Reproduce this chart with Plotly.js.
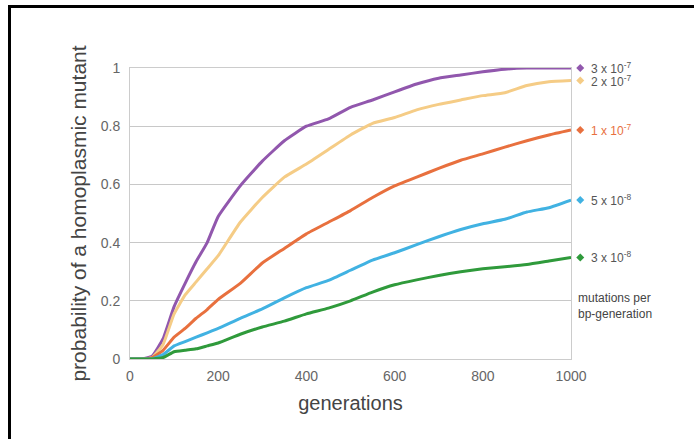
<!DOCTYPE html>
<html>
<head>
<meta charset="utf-8">
<script src="https://cdn.plot.ly/plotly-3.0.1.min.js"></script>
<style>
html, body { margin: 0; padding: 0; background: #ffffff; overflow: hidden; }
#chart { position: absolute; left: 0; top: 0; width: 694px; height: 439px; }
#frame { position: absolute; left: 8px; top: 5px; width: 700px; height: 450px;
  border-top: 3px solid #000; border-left: 3px solid #000; pointer-events: none; }
</style>
</head>
<body>
<div id="chart"></div>
<div id="frame"></div>
<script>
// generations
const generations = [0, 25, 50, 75, 100, 125, 150, 175, 200, 250, 300, 350, 400, 450, 500, 550, 600, 650, 700, 750, 800, 850, 900, 950, 1000];

// probability of a homoplasmic mutant, per mutation rate
const rate3e7 = [0, 0, 0.01, 0.07, 0.18, 0.26, 0.335, 0.40, 0.49, 0.595, 0.68, 0.75, 0.80, 0.825, 0.865, 0.89, 0.918, 0.945, 0.965, 0.976, 0.987, 0.996, 1.0, 1.0, 1.0];
const rate2e7 = [0, 0, 0.005, 0.05, 0.155, 0.22, 0.265, 0.31, 0.355, 0.47, 0.555, 0.625, 0.67, 0.72, 0.77, 0.81, 0.83, 0.856, 0.875, 0.89, 0.905, 0.915, 0.94, 0.953, 0.957];
const rate1e7 = [0, 0, 0.005, 0.03, 0.075, 0.105, 0.14, 0.17, 0.205, 0.26, 0.33, 0.38, 0.43, 0.47, 0.51, 0.555, 0.595, 0.625, 0.655, 0.683, 0.705, 0.728, 0.75, 0.77, 0.787];
const rate5e8 = [0, 0, 0, 0.015, 0.045, 0.06, 0.075, 0.09, 0.105, 0.14, 0.172, 0.21, 0.245, 0.27, 0.305, 0.34, 0.365, 0.393, 0.42, 0.445, 0.465, 0.48, 0.505, 0.52, 0.546];
const rate3e8 = [0, 0, 0, 0.005, 0.025, 0.03, 0.035, 0.045, 0.055, 0.085, 0.11, 0.13, 0.155, 0.175, 0.20, 0.23, 0.255, 0.272, 0.287, 0.30, 0.31, 0.317, 0.325, 0.337, 0.349];

const seriesLabels = ["3 x 10<sup>-7</sup>", "2 x 10<sup>-7</sup>", "1 x 10<sup>-7</sup>", "5 x 10<sup>-8</sup>", "3 x 10<sup>-8</sup>"];
const seriesColors = ["#9157ad", "#f5cc86", "#e8703e", "#41b2e2", "#2f9a3b"];
const labelColors = ["#555555", "#555555", "#e8703e", "#555555", "#555555"];
const yTicks = [0, 0.2, 0.4, 0.6, 0.8, 1];
const yTickText = ["0", "0.2", "0.4", "0.6", "0.8", "1"];
const xTicks = [0, 200, 400, 600, 800, 1000];

const allSeries = [rate3e7, rate2e7, rate1e7, rate5e8, rate3e8];
const FONT = 'Liberation Sans, Arial, sans-serif';
const yRange = [0, 1];
const toPaperY = v => (v - yRange[0]) / (yRange[1] - yRange[0]);

const traces = allSeries.map((s, i) => ({
  x: generations, y: s, type: 'scatter', mode: 'lines',
  line: { color: seriesColors[i], width: 3, shape: 'spline', smoothing: 0.4 },
  hoverinfo: 'skip', showlegend: false
}));

// legend glyphs (diamonds) placed at each series' final value, just right of the plot
const markerPaperX = 1.021;
const labelPaperX = 1.041;
const shapes = allSeries.map((s, i) => ({
  type: 'path', xref: 'paper', yref: 'paper',
  xsizemode: 'pixel', ysizemode: 'pixel',
  xanchor: markerPaperX, yanchor: toPaperY(s[s.length - 1]),
  path: 'M-4,0 L0,4 L4,0 L0,-4 Z',
  fillcolor: seriesColors[i], line: { width: 0 }
}));

const annotations = allSeries.map((s, i) => ({
  x: labelPaperX, y: s[s.length - 1], xref: 'paper', yref: 'y',
  text: seriesLabels[i], showarrow: false, xanchor: 'left', yanchor: 'middle',
  font: { family: FONT, size: 12, color: labelColors[i] }
}));
annotations.push({
  x: 1.012, y: 0.183, xref: 'paper', yref: 'y',
  text: 'mutations per<br>bp-generation', showarrow: false, xanchor: 'left', yanchor: 'middle', align: 'left',
  font: { family: FONT, size: 12, color: '#444444' }
});

const layout = {
  width: 694, height: 439,
  margin: { l: 130, r: 123, t: 68, b: 80 },
  paper_bgcolor: '#ffffff', plot_bgcolor: '#ffffff',
  font: { family: FONT, color: '#555555' },
  xaxis: {
    range: [0, 1000], tickvals: xTicks, ticktext: xTicks.map(String),
    showgrid: false, zeroline: false,
    showline: true, mirror: true, linecolor: '#cccccc', linewidth: 1,
    ticks: 'outside', ticklen: 4, tickcolor: 'rgba(0,0,0,0)',
    tickfont: { size: 14, color: '#666666' },
    title: { text: 'generations', font: { size: 20, color: '#444444' }, standoff: 13 }
  },
  yaxis: {
    range: yRange, tickvals: yTicks, ticktext: yTickText,
    showgrid: true, gridcolor: '#c8c8c8', gridwidth: 1, zeroline: false,
    showline: true, mirror: true, linecolor: '#cccccc', linewidth: 1,
    ticks: 'outside', ticklen: 6, tickcolor: 'rgba(0,0,0,0)',
    tickfont: { size: 14, color: '#666666' },
    title: { text: 'probability of a homoplasmic mutant', font: { size: 21, color: '#444444' }, standoff: 8 }
  },
  shapes: shapes,
  annotations: annotations,
  showlegend: false
};

Plotly.newPlot('chart', traces, layout, { displayModeBar: false, staticPlot: true });
</script>
</body>
</html>
